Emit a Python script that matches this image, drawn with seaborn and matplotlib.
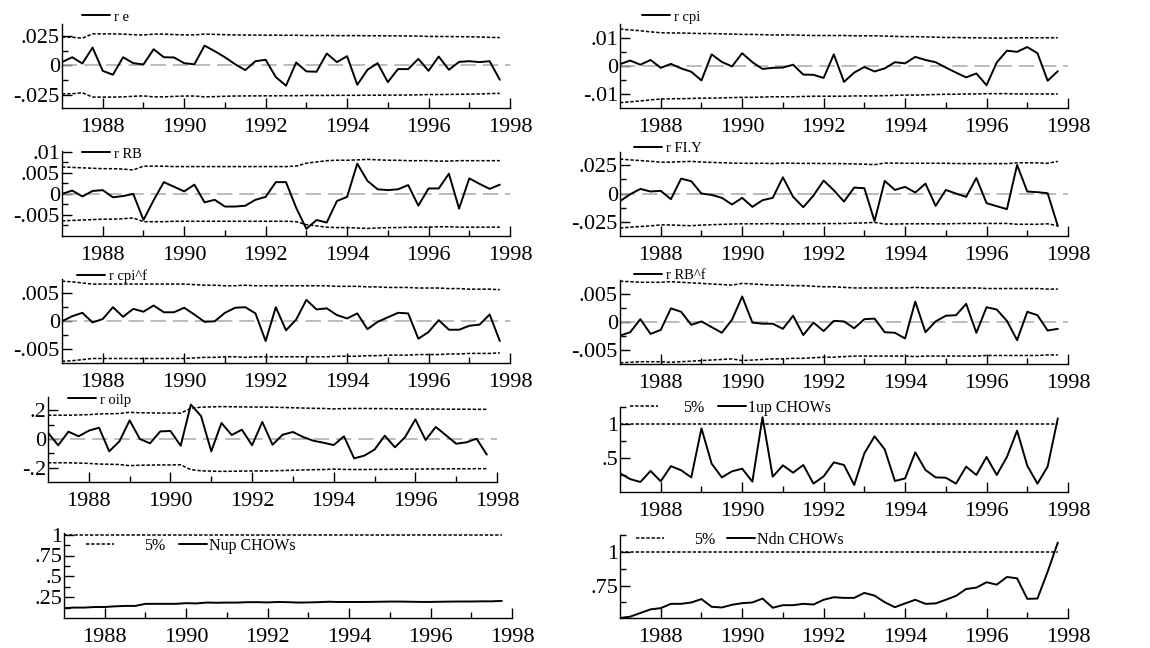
"""Recursive residuals and Chow tests (PcGive style), quarterly 1987-1997."""

import matplotlib
matplotlib.use("Agg")
import matplotlib.pyplot as plt
from matplotlib.legend import Legend
import numpy as np
import seaborn as sns

# ── data ──────────────────────────────────────────────────────────────────────
quarters = np.arange(1987, 1998, 0.25)          # 1987Q1 .. 1997Q4

r_e = [0.0029, 0.0071, 0.0017, 0.0154, -0.0046, -0.008, 0.0071, 0.002, 0.0009, 0.014,
       0.0071, 0.0069, 0.002, 0.001, 0.0171, 0.0123, 0.0071, 0.0011, -0.004, 0.0037,
       0.0049, -0.010, -0.0174, 0.0026, -0.0051, -0.0054, 0.0103, 0.0029, 0.008, -0.0166,
       -0.0037, 0.002, -0.0143, -0.0031, -0.0031, 0.0057, -0.0046, 0.0077, -0.0037, 0.0031,
       0.0037, 0.0029, 0.0037, -0.0123]
se2_e = [0.0245, 0.0243, 0.0235, 0.0272, 0.0272, 0.0272, 0.027, 0.0265, 0.0262, 0.027,
         0.027, 0.0266, 0.0263, 0.0263, 0.027, 0.0268, 0.0265, 0.0263, 0.0262, 0.0262,
         0.0261, 0.0261, 0.026, 0.026, 0.0258, 0.0258, 0.0258, 0.0257, 0.0257, 0.0257,
         0.0256, 0.0256, 0.0255, 0.0255, 0.0254, 0.0253, 0.025, 0.025, 0.0249, 0.0248,
         0.0247, 0.0245, 0.0242, 0.024]

r_cpi = [0.0006, 0.0019, 0.0004, 0.0021, -0.0007, 0.0007, -0.0009, -0.0021, -0.0052, 0.0041,
         0.0014, -0.0002, 0.0045, 0.0013, -0.0011, -0.0007, -0.0006, 0.0004, -0.0031, -0.0032,
         -0.0043, 0.0041, -0.0057, -0.0024, -0.0004, -0.002, -0.0009, 0.0013, 0.0009, 0.0032,
         0.0021, 0.0013, -0.0006, -0.0024, -0.0041, -0.0027, -0.0069, 0.0012, 0.0054, 0.005,
         0.0067, 0.0045, -0.0053, -0.0019]
se2_cpi = [0.0131, 0.0128, 0.0125, 0.0121, 0.0118, 0.0117, 0.0117, 0.0116, 0.0115, 0.0115,
           0.0114, 0.0113, 0.0112, 0.0112, 0.0111, 0.011, 0.011, 0.011, 0.0109, 0.0108,
           0.0108, 0.0108, 0.0108, 0.0107, 0.0107, 0.0107, 0.0106, 0.0105, 0.0104, 0.0104,
           0.0103, 0.0102, 0.0101, 0.0101, 0.01, 0.01, 0.0099, 0.0099, 0.0099, 0.01,
           0.01, 0.01, 0.01, 0.01]

r_RB = [0, 0.0008, -0.0006, 0.0007, 0.0009, -0.0008, -0.0005, 0, -0.0062, -0.0015,
        0.0028, 0.0017, 0.0006, 0.0022, -0.002, -0.0014, -0.003, -0.003, -0.0028, -0.0014,
        -0.0007, 0.0028, 0.0028, -0.0033, -0.0083, -0.0062, -0.0068, -0.0017, -0.0007, 0.0072,
        0.0031, 0.0011, 0.0009, 0.0011, 0.0021, -0.0028, 0.0013, 0.0013, 0.0048, -0.0035,
        0.0037, 0.0024, 0.0012, 0.0022]
se2_RB = [0.0064, 0.0063, 0.0062, 0.0061, 0.006, 0.006, 0.0059, 0.0057, 0.0066, 0.0066,
          0.0066, 0.0065, 0.0065, 0.0065, 0.0065, 0.0065, 0.0065, 0.0065, 0.0065, 0.0065,
          0.0065, 0.0065, 0.0065, 0.0066, 0.0073, 0.0076, 0.0079, 0.008, 0.008, 0.0081,
          0.0082, 0.0081, 0.008, 0.008, 0.0079, 0.0079, 0.0079, 0.0078, 0.0078, 0.0079,
          0.0079, 0.0079, 0.0079, 0.0079]

r_FIY = [-0.0068, -0.0006, 0.0041, 0.0018, 0.0024, -0.005, 0.0132, 0.0109, 0, -0.0012,
         -0.0038, -0.0097, -0.0038, -0.0118, -0.0059, -0.0038, 0.0144, -0.0029, -0.0121, -0.0018,
         0.0115, 0.0029, -0.0071, 0.0053, 0.0047, -0.0244, 0.0112, 0.0032, 0.0059, 0.0009,
         0.0088, -0.0109, 0.0032, 0, -0.0029, 0.0138, -0.0085, -0.0112, -0.0138, 0.0253,
         0.0018, 0.0012, 0.0003, -0.0288]
se2_FIY = [0.0305, 0.0298, 0.0292, 0.0286, 0.0278, 0.0278, 0.0282, 0.0285, 0.0279, 0.0276,
           0.0273, 0.027, 0.0268, 0.0268, 0.0268, 0.0266, 0.027, 0.0268, 0.0267, 0.0267,
           0.0266, 0.0266, 0.0265, 0.0262, 0.026, 0.0256, 0.027, 0.027, 0.0268, 0.0268,
           0.0268, 0.0268, 0.0268, 0.0266, 0.0265, 0.0265, 0.0265, 0.0265, 0.0265, 0.0272,
           0.0272, 0.0272, 0.0268, 0.0285]

r_cpif = [0, 0.0009, 0.0015, -0.0002, 0.0004, 0.0025, 0.0008, 0.0022, 0.0017, 0.0028,
          0.0016, 0.0016, 0.0024, 0.0012, -0.0001, 0, 0.0015, 0.0024, 0.0025, 0.0014,
          -0.0035, 0.0025, -0.0016, 0.0003, 0.0038, 0.0021, 0.0023, 0.0011, 0.0005, 0.0014,
          -0.0014, -0.0001, 0.0007, 0.0015, 0.0014, -0.0031, -0.0019, 0.0002, -0.0015, -0.0015,
          -0.0008, -0.0006, 0.0012, -0.0035]
se2_cpif = [0.0071, 0.007, 0.0068, 0.0066, 0.0066, 0.0066, 0.0066, 0.0066, 0.0066, 0.0066,
            0.0066, 0.0066, 0.0066, 0.0065, 0.0064, 0.0064, 0.0063, 0.0063, 0.0064, 0.0063,
            0.0063, 0.0063, 0.0063, 0.0063, 0.0063, 0.0063, 0.0063, 0.0062, 0.0062, 0.0062,
            0.0061, 0.0061, 0.006, 0.006, 0.006, 0.0059, 0.0059, 0.0059, 0.0058, 0.0058,
            0.0057, 0.0057, 0.0057, 0.0056]

r_RBf = [-0.0024, -0.0018, 0.0005, -0.0021, -0.0014, 0.0024, 0.0018, -0.0005, 0.0001, -0.0009,
         -0.0019, 0.0004, 0.0045, -0.0001, -0.0003, -0.0003, -0.0012, 0.0011, -0.0023, -0.0001,
         -0.0016, 0.0002, 0.0001, -0.0011, 0.0005, 0.0006, -0.0018, -0.0019, -0.0029, 0.0036,
         -0.0018, 0.0001, 0.0011, 0.0012, 0.0032, -0.0019, 0.0026, 0.0022, 0.0002, -0.0032,
         0.0018, 0.0012, -0.0015, -0.0012]
se2_RBf = [0.0072, 0.0071, 0.007, 0.007, 0.007, 0.0071, 0.007, 0.0069, 0.0068, 0.0067,
           0.0066, 0.0065, 0.0068, 0.0067, 0.0066, 0.0065, 0.0065, 0.0064, 0.0064, 0.0063,
           0.0062, 0.0062, 0.0061, 0.006, 0.006, 0.006, 0.006, 0.006, 0.006, 0.0061,
           0.006, 0.006, 0.006, 0.006, 0.006, 0.006, 0.0059, 0.0059, 0.0059, 0.0059,
           0.0059, 0.0059, 0.0058, 0.0058]

r_oilp = [0.044, -0.044, 0.051, 0.019, 0.058, 0.079, -0.086, -0.016, 0.130, 0,
          -0.030, 0.053, 0.056, -0.047, 0.240, 0.160, -0.086, 0.112, 0.028, 0.065,
          -0.044, 0.119, -0.040, 0.030, 0.049, 0.014, -0.012, -0.026, -0.042, 0.019,
          -0.135, -0.116, -0.074, 0.023, -0.058, 0.014, 0.137, -0.007, 0.084, 0.026,
          -0.033, -0.023, 0.002, -0.109]
se2_oilp = [0.166, 0.166, 0.166, 0.168, 0.17, 0.175, 0.176, 0.178, 0.186, 0.183,
            0.182, 0.181, 0.181, 0.18, 0.214, 0.222, 0.224, 0.226, 0.225, 0.224,
            0.223, 0.223, 0.222, 0.22, 0.218, 0.216, 0.214, 0.213, 0.21, 0.212,
            0.213, 0.213, 0.212, 0.212, 0.211, 0.21, 0.21, 0.209, 0.209, 0.208,
            0.208, 0.208, 0.207, 0.207]

chow_1up = [0.275, 0.19, 0.147, 0.31, 0.157, 0.38, 0.32, 0.215, 0.936, 0.417,
            0.215, 0.304, 0.343, 0.152, 1.10, 0.225, 0.392, 0.284, 0.397, 0.123,
            0.23, 0.436, 0.397, 0.103, 0.569, 0.819, 0.627, 0.162, 0.20, 0.583,
            0.324, 0.215, 0.21, 0.123, 0.373, 0.25, 0.515, 0.25, 0.515, 0.902,
            0.387, 0.123, 0.373, 1.083]
chow_Nup = [0.118, 0.125, 0.125, 0.132, 0.132, 0.14, 0.145, 0.145, 0.17, 0.17,
            0.17, 0.17, 0.178, 0.175, 0.185, 0.183, 0.185, 0.185, 0.19, 0.19,
            0.187, 0.192, 0.19, 0.185, 0.187, 0.19, 0.195, 0.192, 0.192, 0.192,
            0.193, 0.195, 0.197, 0.197, 0.195, 0.193, 0.193, 0.195, 0.197, 0.198,
            0.198, 0.2, 0.2, 0.205]
chow_Ndn = [0.51, 0.52, 0.547, 0.574, 0.583, 0.615, 0.615, 0.625, 0.65, 0.593,
            0.588, 0.608, 0.62, 0.625, 0.654, 0.586, 0.605, 0.605, 0.615, 0.61,
            0.645, 0.664, 0.659, 0.659, 0.696, 0.676, 0.627, 0.59, 0.618, 0.645,
            0.615, 0.618, 0.645, 0.674, 0.725, 0.735, 0.775, 0.757, 0.814, 0.804,
            0.652, 0.654, 0.853, 1.069]
CHOW_CRIT = 1.0          # Chow statistics scaled by their 5% critical value

year_ticks = [1988, 1990, 1992, 1994, 1996, 1998]
year_labels = ["1988", "1990", "1992", "1994", "1996", "1998"]
odd_years = [1989, 1991, 1993, 1995, 1997]

# ── style ─────────────────────────────────────────────────────────────────────
sns.set_style("ticks", {"axes.edgecolor": "black", "xtick.color": "black",
                        "ytick.color": "black", "text.color": "black"})
plt.rcParams["font.family"] = ["Liberation Serif", "DejaVu Serif"]

W, H, DPI = 1150, 648, 100
BAND_LS = (0, (2.2, 1.2))
BAND_LW = 1.1
LINE_LW = 1.4
fig = plt.figure(figsize=(W / DPI, H / DPI), dpi=DPI)


def add_panel(box):
    x0, x1, top, bottom = box
    return fig.add_axes([x0 / W, 1 - bottom / H, (x1 - x0) / W, (bottom - top) / H])


def style_axis(ax, ylim, yticks, ylabels, yminor):
    ax.set_xlim(1987, 1998)
    ax.set_ylim(*ylim)
    ax.set_xticks(year_ticks, year_labels)
    ax.set_xticks(odd_years, minor=True)
    ax.set_yticks(yticks, ylabels)
    ax.set_yticks(yminor, minor=True)
    ax.set_xlabel("")
    ax.set_ylabel("")
    sns.despine(ax=ax)
    for side in ("left", "bottom"):
        ax.spines[side].set_linewidth(1.0)
    ax.tick_params(which="both", direction="in", width=1.0, labelsize=16)
    ax.tick_params(which="major", length=7.5)
    ax.tick_params(which="minor", length=4)
    ax.tick_params(axis="x", which="both", pad=7.5)
    ax.tick_params(axis="y", which="both", pad=1.5)


def add_key(ax, handle, label, x_px, y_px, gap_px, fs=10):
    fs_px = fs * DPI / 72
    leg = Legend(ax, [handle], [label], loc="center left",
                 bbox_to_anchor=(x_px / W, 1 - y_px / H), bbox_transform=fig.transFigure,
                 frameon=False, fontsize=fs, borderpad=0, borderaxespad=0,
                 handlelength=28 / fs_px, handletextpad=gap_px / fs_px)
    ax.add_artist(leg)


def residual_panel(box, values, band, label, key_xy, ylim, yticks, ylabels, yminor):
    ax = add_panel(box)
    ax.axhline(0, color="#a8a8a8", lw=1.1, dashes=(10, 4.5), zorder=1)
    band = np.asarray(band)
    sns.lineplot(x=quarters, y=band, ax=ax, color="black", lw=BAND_LW, linestyle=BAND_LS)
    sns.lineplot(x=quarters, y=-band, ax=ax, color="black", lw=BAND_LW, linestyle=BAND_LS)
    sns.lineplot(x=quarters, y=values, ax=ax, color="black", lw=LINE_LW)
    add_key(ax, ax.lines[-1], label, key_xy[0], key_xy[1], 4, fs=10.5)
    style_axis(ax, ylim, yticks, ylabels, yminor)
    return ax


def chow_panel(box, values, label, keys, ylim, yticks, ylabels, yminor):
    ax = add_panel(box)
    crit = np.full(len(quarters), CHOW_CRIT)
    sns.lineplot(x=quarters, y=crit, ax=ax, color="black", lw=BAND_LW, linestyle=BAND_LS)
    sns.lineplot(x=quarters, y=values, ax=ax, color="black", lw=LINE_LW)
    (x5, g5), (xc, gc), y = keys
    add_key(ax, ax.lines[0], "5%", x5, y, g5, fs=11.5)
    add_key(ax, ax.lines[1], label, xc, y, gc, fs=11.5)
    style_axis(ax, ylim, yticks, ylabels, yminor)
    return ax


res_ticks_025 = ([-0.025, 0, 0.025], ["-.025", "0", ".025"], [-0.0125, 0.0125])
res_ticks_01 = ([-0.01, 0, 0.01], ["-.01", "0", ".01"], [-0.005, 0.005])
res_ticks_rb = ([-0.005, 0, 0.005, 0.01], ["-.005", "0", ".005", ".01"],
                [-0.0075, -0.0025, 0.0025, 0.0075])
res_ticks_005 = ([-0.005, 0, 0.005], ["-.005", "0", ".005"], [-0.0025, 0.0025])
res_ticks_2 = ([-0.2, 0, 0.2], ["-.2", "0", ".2"], [-0.1, 0.1])

residual_panel((62, 510, 24, 108), r_e, se2_e, "r e", (82, 17),
               (-0.0366, 0.0357), *res_ticks_025)
residual_panel((620, 1068, 24, 108), r_cpi, se2_cpi, "r cpi", (642, 17),
               (-0.015, 0.0149), *res_ticks_01)
residual_panel((62, 510, 151, 236), r_RB, se2_RB, "r RB", (82, 154),
               (-0.0100, 0.0102), *res_ticks_rb)
residual_panel((620, 1068, 152, 236), r_FIY, se2_FIY, "r FI.Y", (634, 148),
               (-0.0376, 0.0368), *res_ticks_025)
residual_panel((62, 510, 279, 363), r_cpif, se2_cpif, "r cpi^f", (77, 276),
               (-0.0074, 0.0075), *res_ticks_005)
residual_panel((620, 1068, 280, 364), r_RBf, se2_RBf, "r RB^f", (634, 275),
               (-0.0074, 0.0074), *res_ticks_005)
residual_panel((48, 497, 397, 482), r_oilp, se2_oilp, "r oilp", (68, 400),
               (-0.30, 0.293), *res_ticks_2)

chow_panel((620, 1068, 407, 492), chow_1up, "1up CHOWs",
           ((630, 25), (718, 2), 408),
           (0, 1.25), [0.5, 1], [".5", "1"], [0.25, 0.75, 1.25])
chow_panel((64, 512, 533, 618), chow_Nup, "Nup CHOWs",
           ((86, 30), (179, 2), 546),
           (0, 1.02), [0.25, 0.5, 0.75, 1], [".25", ".5", ".75", "1"],
           [0.125, 0.375, 0.625, 0.875])
chow_panel((620, 1068, 535, 618), chow_Ndn, "Ndn CHOWs",
           ((636, 30), (727, 2), 540),
           (0.51, 1.12), [0.75, 1], [".75", "1"], [0.625, 0.875, 1.125])

fig.savefig("out.png", dpi=DPI)
